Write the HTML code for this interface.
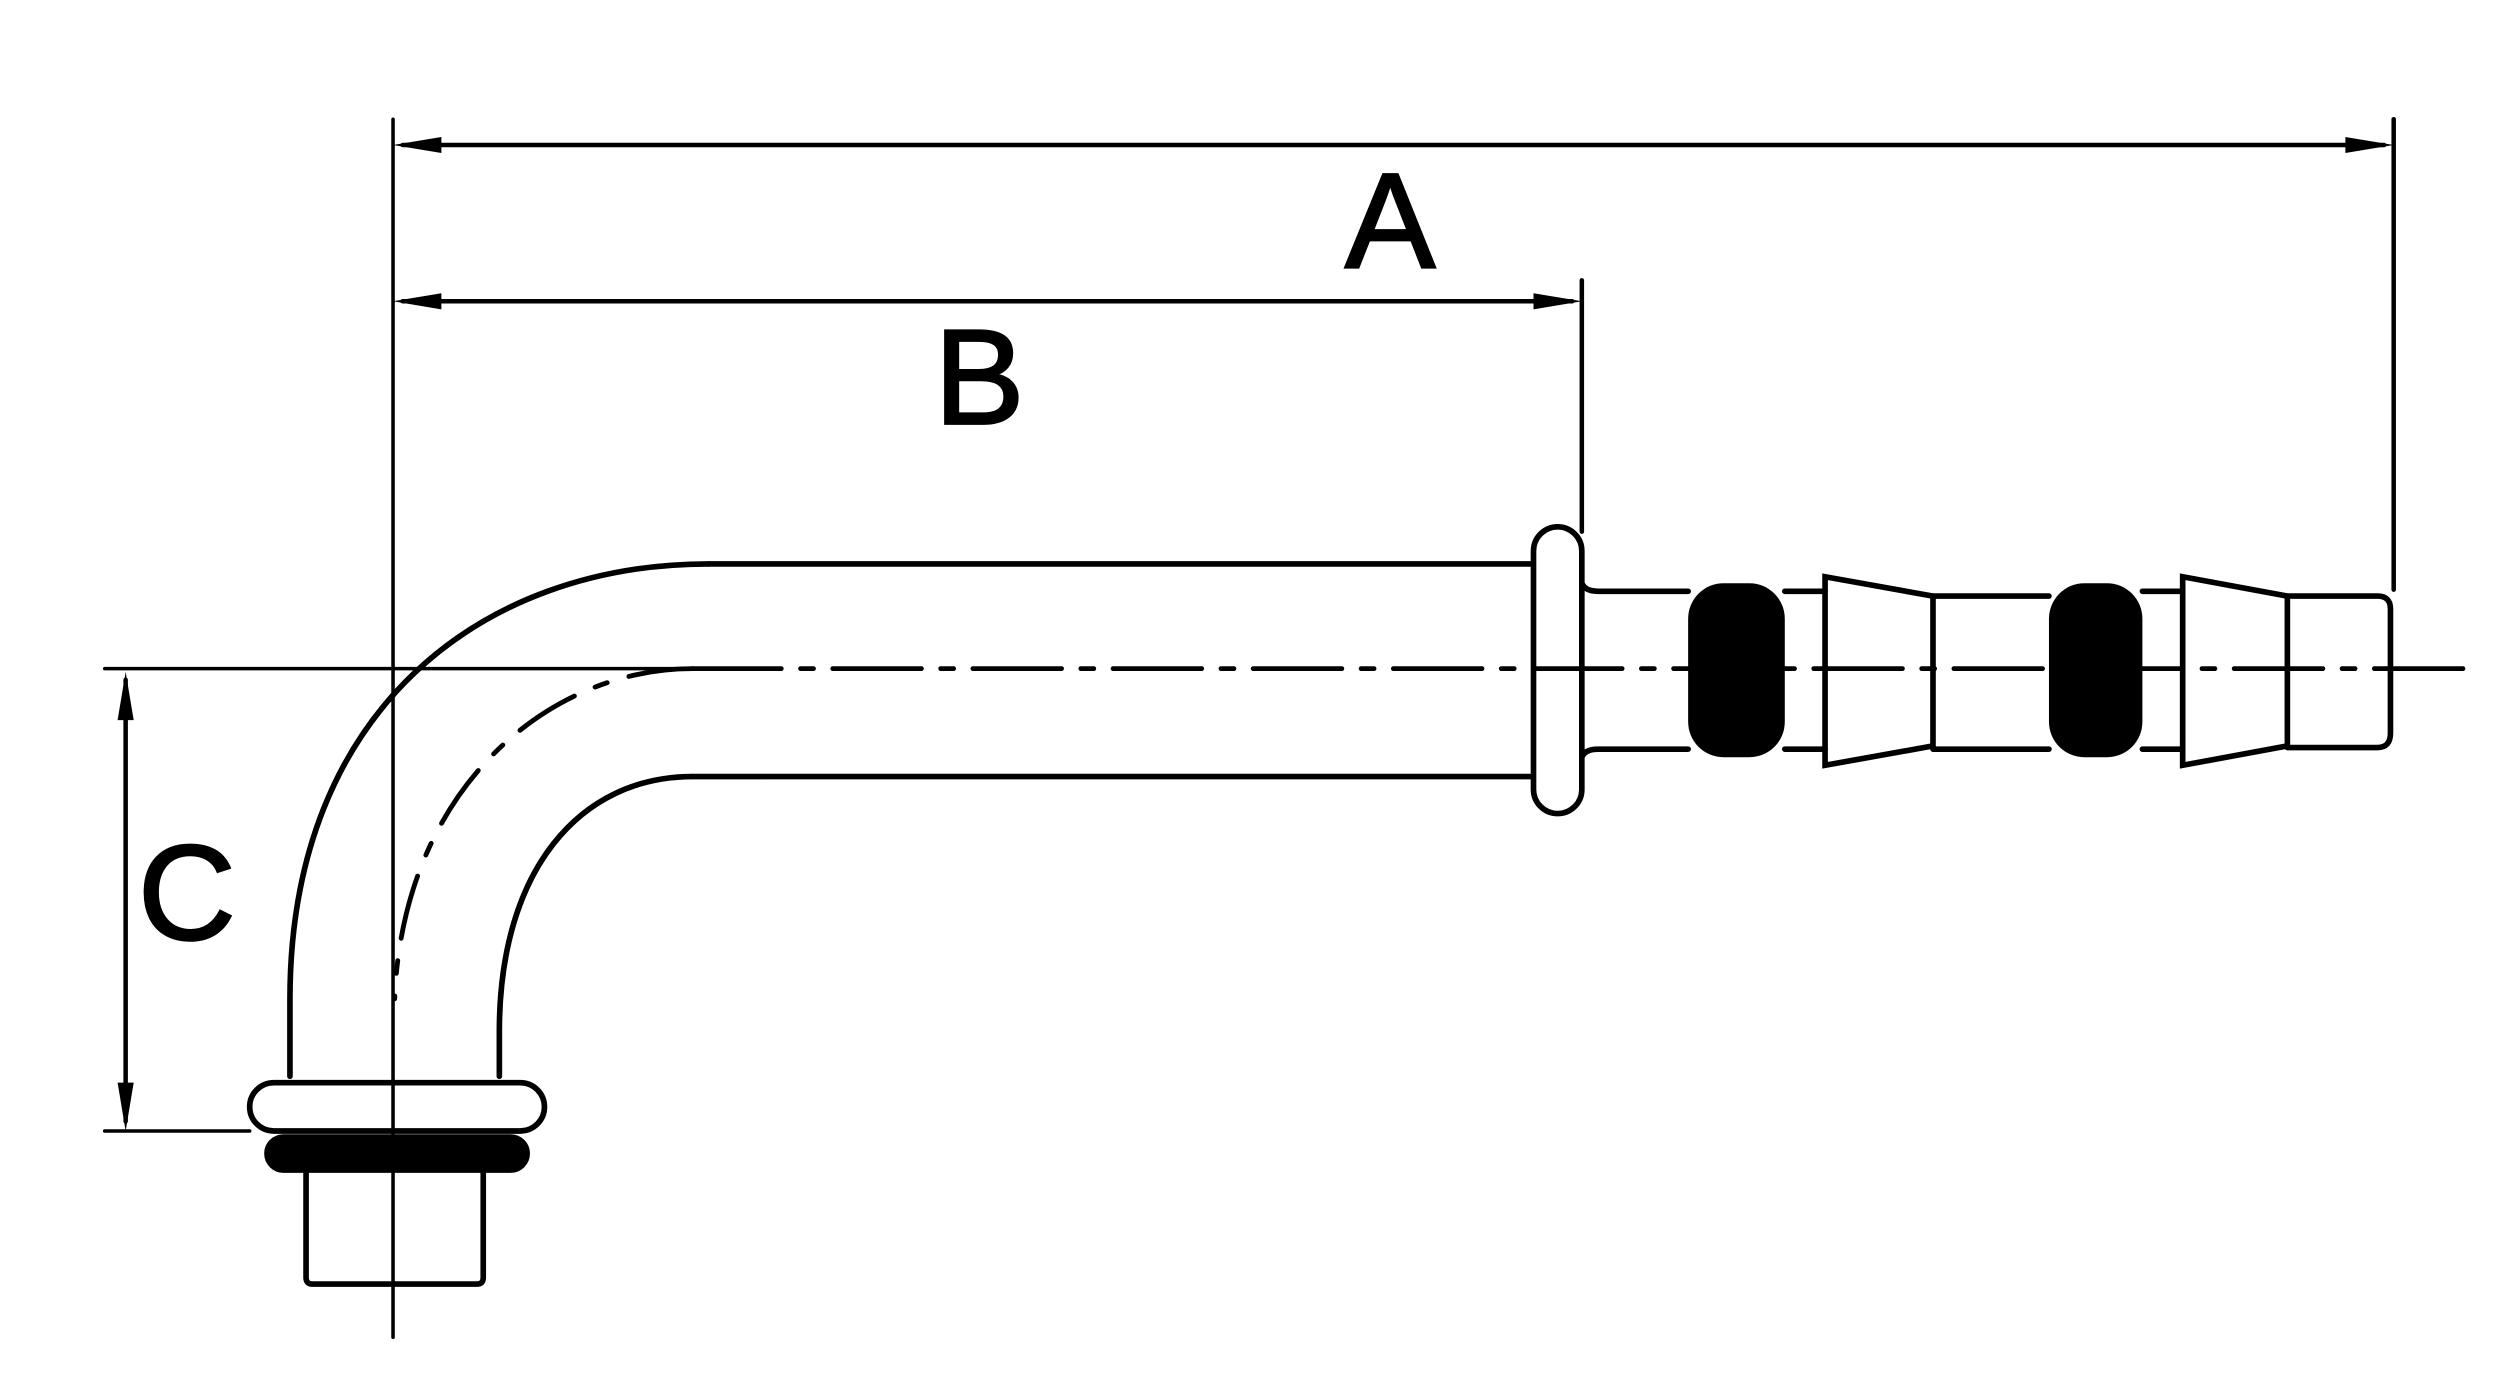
<!DOCTYPE html>
<html><head><style>html,body{margin:0;padding:0;background:#fff}svg{display:block}</style></head>
<body>
<svg width="2500" height="1392" viewBox="0 0 1552 864" preserveAspectRatio="none" xmlns="http://www.w3.org/2000/svg">
<g fill="none" stroke="#000" stroke-linecap="round">
<line x1="244" y1="74" x2="244" y2="830" stroke-width="2.2"/>
<line x1="1486" y1="74" x2="1486" y2="366" stroke-width="2.8"/>
<line x1="982" y1="174" x2="982" y2="330" stroke-width="2.8"/>
<line x1="250" y1="90" x2="1480" y2="90" stroke-width="2.8"/>
<line x1="250" y1="187" x2="976" y2="187" stroke-width="2.8"/>
<line x1="78" y1="422" x2="78" y2="696" stroke-width="2.8"/>
<line x1="65" y1="702" x2="155" y2="702" stroke-width="2.2"/>
<line x1="65" y1="415" x2="420" y2="415" stroke-width="2.2"/>
<path d="M430 415 H1540" stroke-width="3" stroke-dasharray="55 12 8 12"/>
<path d="M440 350 H950" stroke-width="3.5"/>
<path d="M430 482 H950" stroke-width="3.5"/>
<path d="M440 350 C300 350 180 440 180 620 V668" stroke-width="3.5"/>
<path d="M430 482 C360 482 310 540 310 640 V668" stroke-width="3.5"/>
<path d="M430 415 C340 415 250 490 245 620" stroke-width="3" stroke-dasharray="40 14 8 14"/>
<rect x="155" y="672" width="183" height="30" rx="15" stroke-width="3.5"/>
<rect x="165" y="705" width="163" height="22" rx="11" fill="#000" stroke-width="2"/>
<path d="M190 728 V793 Q190 797 194 797 H296 Q300 797 300 793 V728" stroke-width="3.5"/>
<rect x="952" y="327" width="30" height="178" rx="15" stroke-width="3.5"/>
<path d="M982 362 Q984 367 992 367 H1048 M1108 367 H1133 M1200 370 H1272 M1330 367 H1355 M1420 370 H1476 Q1484 370 1484 378 V455 Q1484 464 1476 464 H1420 M1355 465 H1330 M1272 465 H1200 M1133 465 H1108 M1048 465 H992 Q984 465 982 470" stroke-width="3.5"/>
<path d="M1133 358 L1200 370 V463 L1133 475 Z" stroke-width="3.5"/>
<path d="M1355 358 L1420 370 V463 L1355 475 Z" stroke-width="3.5"/>
</g>
<g fill="#000">
<rect x="1048" y="362" width="60" height="108" rx="22"/>
<rect x="1272" y="362" width="58" height="108" rx="22"/>
<path d="M244 90 L274 85 L274 95 Z"/>
<path d="M1486 90 L1456 85 L1456 95 Z"/>
<path d="M244 187 L274 182 L274 192 Z"/>
<path d="M982 187 L952 182 L952 192 Z"/>
<path d="M78 417 L73 447 L83 447 Z"/>
<path d="M78 702 L73 672 L83 672 Z"/>
</g>
<g font-family="Liberation Sans, sans-serif" font-size="84" fill="#000" stroke="#000" stroke-width="1.5" text-anchor="middle">
<text x="863" y="166">A</text>
<text x="608" y="263">B</text>
<text x="116" y="583">C</text>
</g>
</svg>
</body></html>
